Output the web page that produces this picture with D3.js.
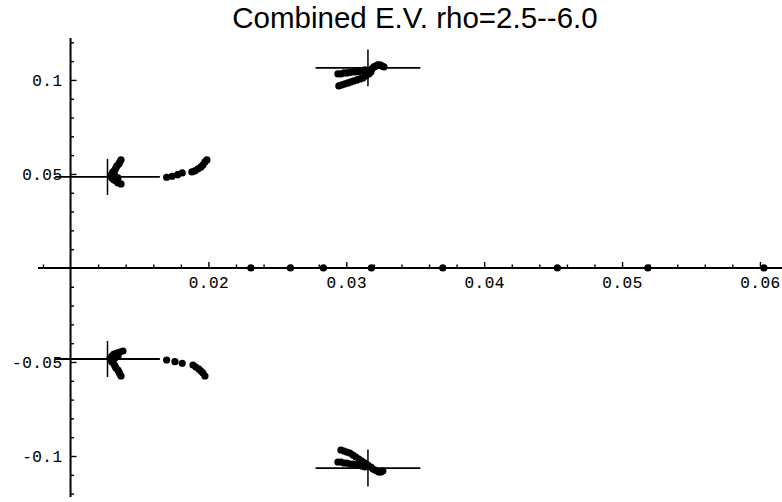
<!DOCTYPE html>
<html>
<head>
<meta charset="utf-8">
<script src="https://cdn.jsdelivr.net/npm/d3@7"></script>
<style>
  html, body { margin: 0; padding: 0; background: #fff; }
  svg { display: block; }
</style>
</head>
<body>
<svg id="chart" width="782" height="502"></svg>
<script>
// ---------- data (re, im) ----------
const titleText = "Combined E.V. rho=2.5--6.0";

const realAxisRe = [0.02308, 0.02595, 0.02834, 0.03182, 0.03700, 0.04531, 0.05187, 0.06029];

const upperLeft = [
  [0.01366,0.05745],[0.01358,0.05638],[0.01351,0.05532],[0.01336,0.05426],[0.01329,0.05319],
  [0.01322,0.05213],[0.01307,0.05106],[0.01300,0.05000],[0.01293,0.04894],
  [0.01300,0.04787],[0.01315,0.04681],[0.01329,0.04628],[0.01344,0.04521],[0.01366,0.04468],
  [0.01322,0.04894],[0.01344,0.04787],
  [0.01697,0.04824],[0.01737,0.04878],[0.01777,0.04963],[0.01810,0.05053],
  [0.01880,0.05106],[0.01902,0.05160],[0.01924,0.05266],[0.01946,0.05372],[0.01960,0.05479],
  [0.01975,0.05638],[0.01989,0.05745]
];

const lowerLeft = [
  [0.01286,-0.04787],[0.01293,-0.04894],[0.01300,-0.05000],[0.01315,-0.05106],[0.01322,-0.05213],
  [0.01329,-0.05319],[0.01344,-0.05426],[0.01351,-0.05532],[0.01358,-0.05638],[0.01366,-0.05745],
  [0.01300,-0.04681],[0.01315,-0.04574],[0.01336,-0.04521],[0.01358,-0.04468],[0.01380,-0.04415],
  [0.01322,-0.04787],[0.01344,-0.04681],
  [0.01697,-0.04894],[0.01757,-0.04984],[0.01810,-0.05069],
  [0.01888,-0.05160],[0.01909,-0.05266],[0.01931,-0.05372],[0.01946,-0.05479],[0.01960,-0.05585],
  [0.01975,-0.05745]
];

const upperRight = [
  [0.02946,0.09681],[0.02968,0.09734],[0.02990,0.09787],[0.03012,0.09840],[0.03033,0.09894],
  [0.03055,0.09947],[0.03077,0.10000],[0.03099,0.10053],[0.03120,0.10106],[0.03142,0.10213],
  [0.03164,0.10319],[0.03178,0.10426],
  [0.02939,0.10319],[0.02961,0.10319],[0.02983,0.10372],[0.03004,0.10372],[0.03026,0.10399],
  [0.03048,0.10426],[0.03070,0.10426],[0.03091,0.10452],[0.03113,0.10479],[0.03135,0.10532],
  [0.03186,0.10585],[0.03200,0.10691],[0.03215,0.10745],[0.03229,0.10798],[0.03244,0.10798],
  [0.03258,0.10745],[0.03273,0.10691]
];

const lowerRight = [
  [0.02961,-0.09681],[0.02983,-0.09734],[0.03004,-0.09787],[0.03026,-0.09840],[0.03048,-0.09947],
  [0.03070,-0.10053],[0.03091,-0.10160],[0.03113,-0.10266],[0.03135,-0.10372],[0.03157,-0.10479],
  [0.03178,-0.10585],
  [0.02939,-0.10319],[0.02961,-0.10319],[0.02983,-0.10372],[0.03004,-0.10372],[0.03026,-0.10426],
  [0.03048,-0.10426],[0.03070,-0.10479],[0.03091,-0.10479],[0.03113,-0.10532],[0.03135,-0.10585],
  [0.03193,-0.10691],[0.03207,-0.10745],[0.03222,-0.10798],[0.03236,-0.10851],[0.03251,-0.10851],
  [0.03265,-0.10798]
];

// crosshair markers: centre and half extents
const crossRe     = [0.01268, 0.01268, 0.03157, 0.03157];
const crossIm     = [0.0484, -0.0484, 0.1064, -0.1064];
const crossHalfRe = [0.0038, 0.0038, 0.0038, 0.0038];
const crossHalfIm = [0.0096, 0.0096, 0.0098, 0.0098];

// ticks
const xTickValues = [0.02, 0.03, 0.04, 0.05, 0.06];
const xTickLabels = ["0.02", "0.03", "0.04", "0.05", "0.06"];
const yTickValues = [0.1, 0.05, -0.05, -0.1];
const yTickLabels = ["0.1", "0.05", "-0.05", "-0.1"];
const xMinorTicks = [0.008,0.012,0.014,0.016,0.018,0.022,0.024,0.026,0.028,0.032,0.034,0.036,0.038,
                     0.042,0.044,0.046,0.048,0.052,0.054,0.056,0.058];
const yMinorTicks = [0.12,0.11,0.09,0.08,0.07,0.06,0.04,0.03,0.02,0.01,
                     -0.01,-0.02,-0.03,-0.04,-0.06,-0.07,-0.08,-0.09,-0.11,-0.12];

// axis extents / origin
const xDomain = [0.00764, 0.0616];
const yDomain = [-0.1218, 0.1223];
const axisOrigin = [0.01, 0];

// ---------- drawing ----------
const svg = d3.select("#chart");
const x = d3.scaleLinear().domain(xDomain).range([38, 782]);
const y = d3.scaleLinear().domain(yDomain).range([497, 38]);

svg.append("text")
  .attr("x", 415).attr("y", 28)
  .attr("text-anchor", "middle")
  .attr("font-family", "Liberation Sans, Arial, sans-serif")
  .attr("font-size", 29.5)
  .attr("fill", "#000")
  .text(titleText);

const monoFont = "Liberation Mono, DejaVu Sans Mono, monospace";

// x axis
const gx = svg.append("g").attr("transform", `translate(0,${y(axisOrigin[1])})`);
gx.append("line").attr("x1", x(xDomain[0])).attr("x2", x(xDomain[1]))
  .attr("stroke", "#000").attr("stroke-width", 2);
const xMajor = d3.axisBottom(x).tickValues(xTickValues)
  .tickFormat((d, i) => xTickLabels[i]).tickSize(-6).tickPadding(9);
const gxMaj = gx.append("g").call(xMajor);
const xMinor = d3.axisBottom(x).tickValues(xMinorTicks).tickFormat("").tickSize(-3.5);
const gxMin = gx.append("g").call(xMinor);
[gxMaj, gxMin].forEach(g => {
  g.select(".domain").remove();
  g.selectAll("line").attr("stroke", "#000").attr("stroke-width", 1.4);
});
gxMaj.selectAll("text").attr("font-family", monoFont).attr("font-size", 16)
  .attr("letter-spacing", 0.5).attr("fill", "#000")
  .attr("stroke", "#000").attr("stroke-width", 0.12);

// y axis
const gy = svg.append("g").attr("transform", `translate(${x(axisOrigin[0])},0)`);
gy.append("line").attr("y1", y(yDomain[0])).attr("y2", y(yDomain[1]))
  .attr("stroke", "#000").attr("stroke-width", 2);
const yMajor = d3.axisLeft(y).tickValues(yTickValues)
  .tickFormat((d, i) => yTickLabels[i]).tickSize(-6).tickPadding(8);
const gyMaj = gy.append("g").call(yMajor);
const yMinor = d3.axisLeft(y).tickValues(yMinorTicks).tickFormat("").tickSize(-3.5);
const gyMin = gy.append("g").call(yMinor);
[gyMaj, gyMin].forEach(g => {
  g.select(".domain").remove();
  g.selectAll("line").attr("stroke", "#000").attr("stroke-width", 1.4);
});
gyMaj.selectAll("text").attr("font-family", monoFont).attr("font-size", 16)
  .attr("letter-spacing", 0.5).attr("fill", "#000")
  .attr("stroke", "#000").attr("stroke-width", 0.12);

// crosshairs
const crosses = crossRe.map((r, i) => ({ r, im: crossIm[i], hr: crossHalfRe[i], hi: crossHalfIm[i] }));
const gc = svg.append("g").attr("stroke", "#000");
gc.selectAll("line.h").data(crosses).join("line").attr("class", "h")
  .attr("x1", d => x(d.r - d.hr)).attr("x2", d => x(d.r + d.hr))
  .attr("y1", d => y(d.im)).attr("y2", d => y(d.im)).attr("stroke-width", 1.8);
gc.selectAll("line.v").data(crosses).join("line").attr("class", "v")
  .attr("x1", d => x(d.r)).attr("x2", d => x(d.r))
  .attr("y1", d => y(d.im - d.hi)).attr("y2", d => y(d.im + d.hi)).attr("stroke-width", 1.5);

// eigenvalue points
const pts = [].concat(upperLeft, lowerLeft, upperRight, lowerRight, realAxisRe.map(r => [r, 0]));
svg.append("g").selectAll("circle").data(pts).join("circle")
  .attr("cx", d => x(d[0])).attr("cy", d => y(d[1])).attr("r", 3.6).attr("fill", "#000");
</script>
</body>
</html>
